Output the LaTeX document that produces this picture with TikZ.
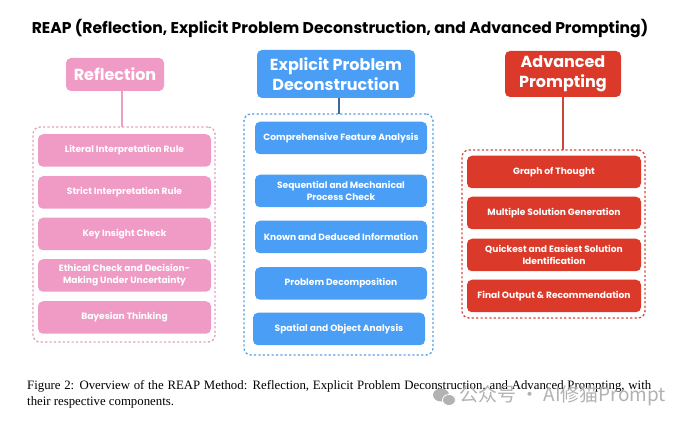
\documentclass[tikz,border=0pt]{standalone}
\usepackage{fontspec}
\setmainfont{Liberation Serif}
\newfontfamily\popp{Poppins}
\newfontfamily\cjkf{Noto Sans CJK SC}
\definecolor{pinkF}{RGB}{240,155,198}
\definecolor{pinkD}{RGB}{226,160,192}
\definecolor{pinkL}{RGB}{233,160,196}
\definecolor{blueF}{RGB}{74,158,245}
\definecolor{blueD}{RGB}{86,160,232}
\definecolor{blueL}{RGB}{60,105,150}
\definecolor{redF}{RGB}{219,58,42}
\definecolor{redD}{RGB}{212,72,62}
\definecolor{redL}{RGB}{200,70,58}
\definecolor{wm}{RGB}{178,178,178}
\tikzset{
  x=1pt,y=-1pt,
  item/.style={rounded corners=5pt, minimum height=32.5pt, inner sep=1pt, text=white,
    font=\popp\bfseries\fontsize{9.1}{12.2}\selectfont, align=center},
  head/.style={rounded corners=5pt, inner sep=2pt, text=white,
    font=\popp\bfseries\fontsize{16}{19.5}\selectfont, align=center},
  group/.style={draw, dashed, dash pattern=on 2.2pt off 2.2pt, line width=1.3pt, rounded corners=7pt},
  conn/.style={line width=2pt}
}
\begin{document}
\begin{tikzpicture}
\useasboundingbox (0,0) rectangle (678,422);
\fill[white] (0,0) rectangle (678,422);
% title
\node[font=\popp\bfseries\fontsize{15.6}{18}\selectfont] (title) at (340,29)
  {REAP (Reflection, Explicit Problem Deconstruction, and Advanced Prompting)};

% ---------- Reflection
\node[head, fill=pinkF, minimum width=98pt, minimum height=33pt] (hR) at (115,74.5) {Reflection};
\node[group, draw=pinkD, minimum width=182pt, minimum height=215pt] (gR) at (124,234.5) {};
\coordinate (cR) at (122,127);
\draw[conn, pinkL] (cR |- hR.south) -- (cR);
\node[item, fill=pinkF, minimum width=173pt] (r1) at (124.5,150.5) {Literal Interpretation Rule};
\node[item, fill=pinkF, minimum width=173pt] (r2) at (124.5,192.5) {Strict Interpretation Rule};
\node[item, fill=pinkF, minimum width=173pt] (r3) at (124.5,234) {Key Insight Check};
\node[item, fill=pinkF, minimum width=173pt] (r4) at (124.5,275.5) {Ethical Check and Decision-\\Making Under Uncertainty};
\node[item, fill=pinkF, minimum width=173pt] (r5) at (124.5,317.5) {Bayesian Thinking};

% ---------- Explicit Problem Deconstruction
\node[head, fill=blueF, minimum width=158pt, minimum height=48pt] (hE) at (336,74) {Explicit Problem\\Deconstruction};
\node[group, draw=blueD, minimum width=189pt, minimum height=241pt] (gE) at (338.5,234.5) {};
\coordinate (cE) at (339,114);
\draw[conn, blueL] (cE |- hE.south) -- (cE);
\node[item, fill=blueF, minimum width=172pt] (e1) at (341,138) {Comprehensive Feature Analysis};
\node[item, fill=blueF, minimum width=172pt] (e2) at (341,191) {Sequential and Mechanical\\Process Check};
\node[item, fill=blueF, minimum width=172pt] (e3) at (341,237) {Known and Deduced Information};
\node[item, fill=blueF, minimum width=172pt] (e4) at (341,283.5) {Problem Decomposition};
\node[item, fill=blueF, minimum width=172pt] (e5) at (339,329) {Spatial and Object Analysis};

% ---------- Advanced Prompting
\node[head, fill=redF, minimum width=116pt, minimum height=46pt] (hA) at (563,74) {Advanced\\Prompting};
\node[group, draw=redD, minimum width=183pt, minimum height=168pt] (gA) at (553.5,234) {};
\coordinate (cA) at (563,150);
\draw[conn, redL] (cA |- hA.south) -- (cA);
\node[item, fill=redF, minimum width=174pt] (a1) at (554,172) {Graph of Thought};
\node[item, fill=redF, minimum width=174pt] (a2) at (554,213) {Multiple Solution Generation};
\node[item, fill=redF, minimum width=174pt] (a3) at (554,255) {Quickest and Easiest Solution\\Identification};
\node[item, fill=redF, minimum width=174pt] (a4) at (554,296) {Final Output \& Recommendation};

% ---------- caption
\node[anchor=base west, inner sep=0, font=\fontsize{12.8}{15}\selectfont] (cap1) at (27,389)
  {\makebox[624pt][s]{Figure 2: Overview of the REAP Method: Reflection, Explicit Problem Deconstruction, and Advanced Prompting, with}};
\node[anchor=base west, inner sep=0, font=\fontsize{12.8}{15}\selectfont] (cap2) at (27,405)
  {their respective components.};

% ---------- watermark
\fill[wm] (441,395) ellipse [x radius=8, y radius=6.5];
\fill[wm, draw=white, line width=0.8pt] (449,400) ellipse [x radius=6.5, y radius=5.5];
\node[anchor=west, inner sep=0, text=wm, font=\cjkf\fontsize{19}{21}\selectfont] (wmk) at (459,396)
  {公众号 · AI修猫Prompt};
\end{tikzpicture}
\end{document}
